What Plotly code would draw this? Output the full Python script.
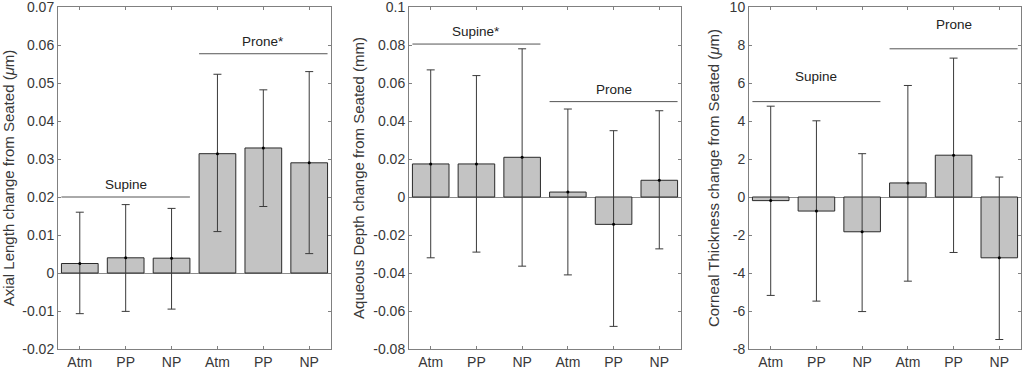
import plotly.graph_objects as go

categories = ["Atm", "PP", "NP", "Atm", "PP", "NP"]
positions = [1, 2, 3, 4, 5, 6]

# Panel 1: Axial length change (µm)
axial_mean = [0.0025, 0.0040, 0.0039, 0.0314, 0.0329, 0.0290]
axial_err_up = [0.0135, 0.0140, 0.0131, 0.0209, 0.0153, 0.0240]
axial_err_dn = [0.0132, 0.0141, 0.0134, 0.0205, 0.0154, 0.0239]
axial_ticks = [-0.02, -0.01, 0, 0.01, 0.02, 0.03, 0.04, 0.05, 0.06, 0.07]
axial_ticklabels = ["-0.02", "-0.01", "0", "0.01", "0.02", "0.03", "0.04", "0.05", "0.06", "0.07"]

# Panel 2: Aqueous depth change (mm)
aqueous_mean = [0.0174, 0.0174, 0.0209, 0.0026, -0.0144, 0.0088]
aqueous_err_up = [0.0495, 0.0465, 0.0571, 0.0437, 0.0493, 0.0366]
aqueous_err_dn = [0.0494, 0.0464, 0.0573, 0.0436, 0.0537, 0.0361]
aqueous_ticks = [-0.08, -0.06, -0.04, -0.02, 0, 0.02, 0.04, 0.06, 0.08, 0.1]
aqueous_ticklabels = ["-0.08", "-0.06", "-0.04", "-0.02", "0", "0.02", "0.04", "0.06", "0.08", "0.1"]

# Panel 3: Corneal thickness change (µm)
corneal_mean = [-0.19, -0.74, -1.83, 0.74, 2.20, -3.20]
corneal_err_up = [4.97, 4.75, 4.11, 5.13, 5.11, 4.25]
corneal_err_dn = [4.99, 4.74, 4.20, 5.17, 5.12, 4.30]
corneal_ticks = [-8, -6, -4, -2, 0, 2, 4, 6, 8, 10]
corneal_ticklabels = ["-8", "-6", "-4", "-2", "0", "2", "4", "6", "8", "10"]

y_titles = [
    "Axial Length change from Seated (<i>μ</i>m)",
    "Aqueous Depth change from Seated (mm)",
    "Corneal Thickness change from Seated (<i>μ</i>m)",
]
y_ranges = [[-0.02, 0.07], [-0.08, 0.1], [-8, 10]]

group_names = [["Supine", "Prone*"], ["Supine*", "Prone"], ["Supine", "Prone"]]
group_levels = [[0.02, 0.0577], [0.0805, 0.0502], [5.02, 7.8]]
group_text_offsets = [0.0032, 0.0066, 1.3]
group_spans = [[0.6, 3.4], [3.6, 6.4]]

W, H = 1024, 371
panel_px = [[58, 331], [409, 681], [749, 1021]]
x_domains = [[a / W, b / W] for a, b in panel_px]
y_domain = [1 - 349 / H, 1 - 7 / H]
title_standoffs = [7, 5, 6]

means = [axial_mean, aqueous_mean, corneal_mean]
ups = [axial_err_up, aqueous_err_up, corneal_err_up]
dns = [axial_err_dn, aqueous_err_dn, corneal_err_dn]
tickvals_all = [axial_ticks, aqueous_ticks, corneal_ticks]
ticktext_all = [axial_ticklabels, aqueous_ticklabels, corneal_ticklabels]

fig = go.Figure()
axis_col = "#808080"
text_col = "#383838"
font_family = "Liberation Sans, Arial, sans-serif"

for i in range(3):
    xa = "x" if i == 0 else f"x{i+1}"
    ya = "y" if i == 0 else f"y{i+1}"
    fig.add_trace(go.Bar(
        x=positions, y=means[i], width=0.8, xaxis=xa, yaxis=ya,
        marker=dict(color="#c3c3c3", line=dict(color="#2a2a2a", width=1)),
        showlegend=False, hoverinfo="skip",
    ))
    fig.add_trace(go.Scatter(
        x=positions, y=means[i], mode="markers", xaxis=xa, yaxis=ya,
        marker=dict(color="black", size=3),
        error_y=dict(type="data", array=ups[i], arrayminus=dns[i], symmetric=False,
                     color="#3a3a3a", thickness=1, width=4),
        showlegend=False, hoverinfo="skip",
    ))
    sfx = "" if i == 0 else str(i + 1)
    fig.layout["xaxis" + sfx] = dict(
        domain=x_domains[i], range=[0.525, 6.475], anchor=ya, automargin=False,
        tickmode="array", tickvals=positions, ticktext=categories,
        ticks="inside", ticklen=3, tickcolor=axis_col, showline=True, linecolor=axis_col,
        linewidth=1, mirror="ticks", showgrid=False, zeroline=False,
        ticklabeloverflow="allow",
        tickfont=dict(size=14, color=text_col, family=font_family),
    )
    fig.layout["yaxis" + sfx] = dict(
        domain=y_domain, range=y_ranges[i], anchor=xa, automargin=False,
        tickmode="array", tickvals=tickvals_all[i], ticktext=ticktext_all[i],
        ticks="inside", ticklen=3, tickcolor=axis_col, showline=True, linecolor=axis_col,
        linewidth=1, mirror="ticks", showgrid=False, zeroline=True, zerolinecolor="#8a8a8a",
        zerolinewidth=1, ticklabeloverflow="allow",
        tickfont=dict(size=14, color=text_col, family=font_family),
        title=dict(text=y_titles[i], font=dict(size=15, color=text_col, family=font_family),
                   standoff=title_standoffs[i]),
    )
    for g in range(2):
        fig.add_shape(type="line", xref=xa, yref=ya,
                      x0=group_spans[g][0], x1=group_spans[g][1],
                      y0=group_levels[i][g], y1=group_levels[i][g],
                      line=dict(color="#555555", width=1))
        fig.add_annotation(xref=xa, yref=ya,
                           x=(group_spans[g][0] + group_spans[g][1]) / 2,
                           y=group_levels[i][g] + group_text_offsets[i],
                           text=group_names[i][g], showarrow=False,
                           font=dict(size=13.5, color="#222222", family=font_family))

fig.update_layout(
    width=W, height=H, margin=dict(l=0, r=0, t=0, b=0),
    paper_bgcolor="white", plot_bgcolor="white", bargap=0.2,
)

fig.write_html("out.html", config={"displayModeBar": False},
               post_script="document.body.style.margin='0';document.body.style.overflow='hidden';")
